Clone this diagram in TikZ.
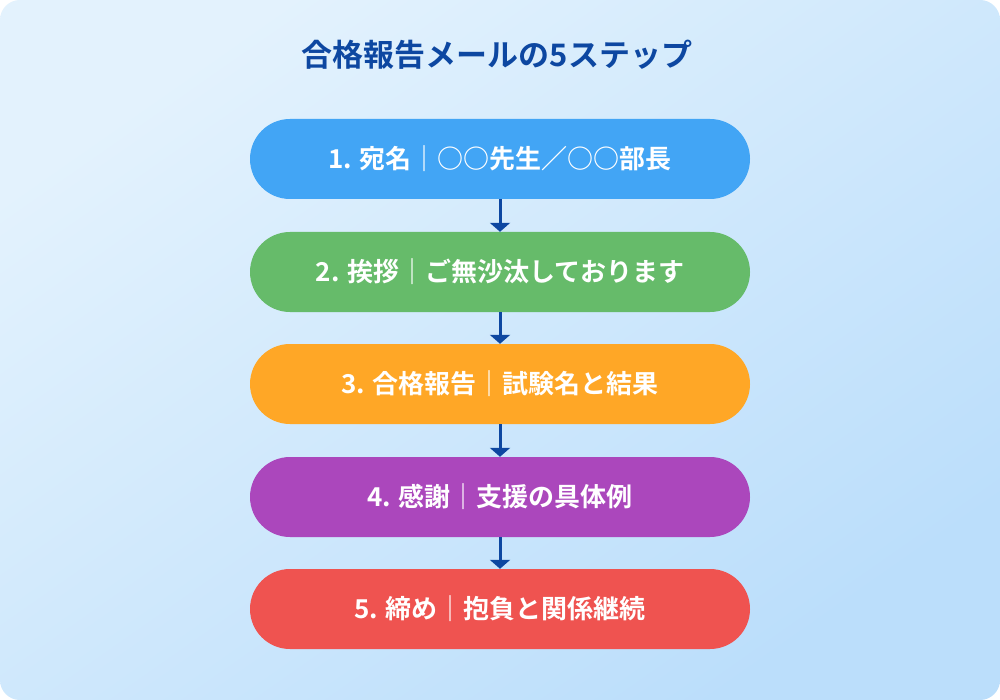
\documentclass[tikz,border=0pt]{standalone}
\usepackage{fontspec}
\setmainfont{Noto Sans CJK JP}[BoldFont={* Bold}]
\newfontfamily\jpbold{Noto Sans CJK JP Bold}
\usetikzlibrary{arrows.meta,shapes.misc}
\definecolor{bgA}{HTML}{E3F2FD}
\definecolor{bgB}{HTML}{BBDEFB}
\definecolor{navy}{HTML}{0D47A1}
\definecolor{cBlue}{HTML}{42A5F5}
\definecolor{cGreen}{HTML}{66BB6A}
\definecolor{cOrange}{HTML}{FFA726}
\definecolor{cPurple}{HTML}{AB47BC}
\definecolor{cRed}{HTML}{EF5350}
\tikzset{
  stepbox/.style={rounded rectangle, minimum width=500pt, minimum height=80pt,
    inner sep=0pt, text=white, font=\jpbold\fontsize{26}{30}\selectfont},
  flowarrow/.style={draw=navy, line width=3pt, -{Triangle[width=20pt,length=9pt]}},
}
\begin{document}
\begin{tikzpicture}[x=1pt,y=-1pt]
\useasboundingbox (0,0) rectangle (1000,700);
\fill[white] (0,0) rectangle (1000,700);
\shade[rounded corners=20pt, top color=bgA, bottom color=bgB, shading angle=35]
  (0,0) rectangle (1000,700);
\node[text=navy, font=\jpbold\fontsize{31}{34}\selectfont] (title) at (497,55) {合格報告メールの5ステップ};
\node[stepbox, fill=cBlue]   (s1) at (500,159) {1. 宛名｜○○先生／○○部長};
\node[stepbox, fill=cGreen]  (s2) at (500,272) {2. 挨拶｜ご無沙汰しております};
\node[stepbox, fill=cOrange] (s3) at (500,384) {3. 合格報告｜試験名と結果};
\node[stepbox, fill=cPurple] (s4) at (500,497) {4. 感謝｜支援の具体例};
\node[stepbox, fill=cRed]    (s5) at (500,609) {5. 締め｜抱負と関係継続};
\draw[flowarrow] (s1.south) -- (s2.north);
\draw[flowarrow] (s2.south) -- (s3.north);
\draw[flowarrow] (s3.south) -- (s4.north);
\draw[flowarrow] (s4.south) -- (s5.north);
\end{tikzpicture}
\end{document}
